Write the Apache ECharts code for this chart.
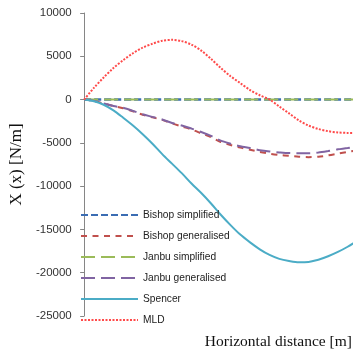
<!DOCTYPE html>
<html>
<head>
<meta charset="utf-8">
<script src="https://cdn.jsdelivr.net/npm/echarts@6/dist/echarts.min.js"></script>
<style>
    html, body { margin: 0; padding: 0; background: #fff; }
    #chart { width: 353px; height: 355px; }
</style>
</head>
<body>
<div id="chart"></div>
<script>
// horizontal distance (chart units), the plot is cut off at the right edge
var distance = [0, 1, 2, 3, 4, 5, 6, 7, 8, 9, 10, 11, 12, 13, 14, 15, 16, 17, 18, 19, 20, 21, 22, 23, 24, 25, 26, 27, 28];

var bishopSimplified = [0, 0, 0, 0, 0, 0, 0, 0, 0, 0, 0, 0, 0, 0, 0, 0, 0, 0, 0, 0, 0, 0, 0, 0, 0, 0, 0, 0, 0];
var bishopGeneralised = [0, -150, -450, -750, -1000, -1350, -1750, -2050, -2350, -2750, -3100, -3450, -3900, -4350, -4900, -5250, -5550, -5800, -6050, -6250, -6400, -6500, -6600, -6650, -6600, -6450, -6250, -6050, -5850];
var janbuSimplified = [0, 0, 0, 0, 0, 0, 0, 0, 0, 0, 0, 0, 0, 0, 0, 0, 0, 0, 0, 0, 0, 0, 0, 0, 0, 0, 0, 0, 0];
var janbuGeneralised = [0, -150, -450, -750, -950, -1300, -1700, -2000, -2300, -2700, -3000, -3350, -3750, -4200, -4750, -5100, -5400, -5600, -5850, -6000, -6100, -6180, -6200, -6200, -6120, -5950, -5750, -5600, -5400];
var spencer = [0, -200, -600, -1250, -2100, -3000, -4000, -5100, -6300, -7400, -8500, -9700, -10800, -12000, -13300, -14500, -15600, -16500, -17300, -17950, -18400, -18650, -18800, -18750, -18500, -18100, -17600, -17000, -16300];
var mld = [0, 1350, 2550, 3650, 4550, 5350, 6000, 6450, 6800, 6900, 6750, 6350, 5650, 4700, 3650, 2700, 1900, 1100, 500, 0, -800, -1600, -2400, -3000, -3400, -3650, -3800, -3850, -3850];

var yTicks = [-25000, -20000, -15000, -10000, -5000, 0, 5000, 10000];

function pairs(values) {
    return distance.map(function (x, i) { return [x, values[i]]; });
}

function lineSeries(name, values, color, width, dash) {
    return {
        name: name,
        type: 'line',
        data: pairs(values),
        symbol: 'none',
        smooth: 0.3,
        clip: true,
        lineStyle: { color: color, width: width, type: dash },
        itemStyle: { color: color }
    };
}

var chart = echarts.init(document.getElementById('chart'));
chart.setOption({
    animation: false,
    grid: { left: 75, right: 0, top: 13, bottom: 39 },
    legend: {
        orient: 'vertical',
        left: 80,
        top: 210,
        padding: 0,
        itemWidth: 57,
        itemHeight: 11,
        itemGap: 11,
        itemStyle: { opacity: 0 },
        textStyle: { fontFamily: 'Liberation Sans', fontSize: 10.2, color: '#222' },
        data: ['Bishop simplified', 'Bishop generalised', 'Janbu simplified', 'Janbu generalised', 'Spencer', 'MLD']
    },
    xAxis: {
        type: 'value',
        min: -0.25,
        max: 27.55,
        axisLine: { show: false },
        axisTick: { show: false },
        axisLabel: { show: false },
        splitLine: { show: false }
    },
    yAxis: {
        type: 'value',
        min: yTicks[0],
        max: yTicks[yTicks.length - 1],
        interval: 5000,
        name: 'X (x) [N/m]',
        nameLocation: 'middle',
        nameGap: 44,
        nameTextStyle: { fontFamily: 'Liberation Serif', fontSize: 17, color: '#111' },
        axisLine: { show: true, lineStyle: { color: '#868686', width: 1 } },
        axisTick: { show: true, length: 4, lineStyle: { color: '#868686' } },
        axisLabel: {
            margin: 10, fontFamily: 'Liberation Sans', fontSize: 11.5, color: '#333',
            formatter: function (v) { return String(v); }
        },
        splitLine: { show: false }
    },
    graphic: [{
        type: 'text',
        right: 1,
        top: 334,
        style: { text: 'Horizontal distance [m]', font: '15.5px "Liberation Serif"', fill: '#111' }
    }],
    series: [
        lineSeries('Bishop simplified', bishopSimplified, '#3B6DB3', 2.5, [7, 3]),
        lineSeries('Bishop generalised', bishopGeneralised, '#C0504D', 2, [6, 5.5]),
        lineSeries('Janbu simplified', janbuSimplified, '#9BBB59', 2, [14, 6]),
        lineSeries('Janbu generalised', janbuGeneralised, '#8064A2', 2, [14, 6]),
        lineSeries('Spencer', spencer, '#4BACC6', 2, 'solid'),
        lineSeries('MLD', mld, '#FF4A4A', 2, [2, 1.5])
    ]
});
</script>
</body>
</html>
